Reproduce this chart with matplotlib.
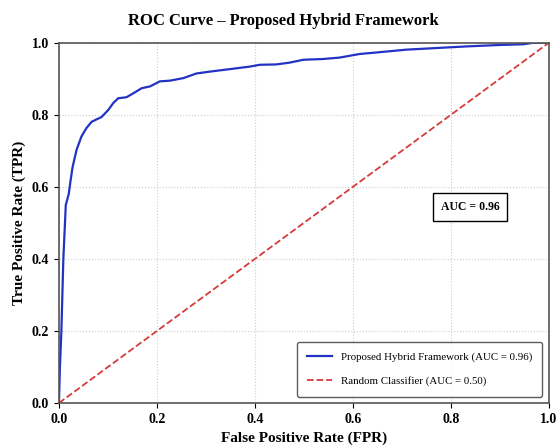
import matplotlib
matplotlib.use("Agg")
import matplotlib.pyplot as plt
import numpy as np

# ROC points
fpr = [0.0, 0.002, 0.005, 0.009, 0.014, 0.020, 0.024, 0.028, 0.036, 0.046, 0.056,
       0.067, 0.087, 0.101, 0.111, 0.121, 0.138, 0.152, 0.169, 0.186, 0.206,
       0.227, 0.254, 0.281, 0.308, 0.349, 0.390, 0.410, 0.444, 0.471, 0.499,
       0.539, 0.573, 0.614, 0.655, 0.709, 0.764, 0.832, 0.900, 0.948, 0.968, 1.0]
tpr = [0.0, 0.10, 0.20, 0.40, 0.55, 0.58, 0.62, 0.656, 0.703, 0.740, 0.763,
       0.781, 0.794, 0.814, 0.833, 0.846, 0.849, 0.860, 0.874, 0.879, 0.893,
       0.895, 0.902, 0.915, 0.920, 0.927, 0.934, 0.939, 0.940, 0.945, 0.953,
       0.955, 0.959, 0.969, 0.974, 0.981, 0.985, 0.990, 0.994, 0.996, 1.0, 1.0]
rand_x = [0.0, 1.0]
rand_y = [0.0, 1.0]
auc_model = 0.96
auc_random = 0.50
ticks = [0.0, 0.2, 0.4, 0.6, 0.8, 1.0]

plt.rcParams['font.family'] = ['Liberation Serif', 'DejaVu Serif']

fig = plt.figure(figsize=(5.56, 4.46), dpi=100)
ax = fig.add_axes([0.106, 0.0964, 0.881, 0.8076])

ax.plot(fpr, tpr, color='#2233c4', lw=1.6,
        label='Proposed Hybrid Framework (AUC = %.2f)' % auc_model)
ax.plot(rand_x, rand_y, color='#d63a3a', lw=1.3, ls='--',
        label='Random Classifier (AUC = %.2f)' % auc_random)

ax.set_xlim(0, 1)
ax.set_ylim(0, 1)
ax.set_xticks(ticks)
ax.set_yticks(ticks)
for lab in ax.get_xticklabels() + ax.get_yticklabels():
    lab.set_fontweight('bold')
    lab.set_fontsize(10)
ax.grid(True, ls=':', color='#cccccc', lw=0.8)
for s in ax.spines.values():
    s.set_color('#555555')
    s.set_linewidth(1.2)

# title sits centred on the figure rather than the axes
fig.text(0.509, 0.952, 'ROC Curve – Proposed Hybrid Framework', fontsize=12,
         fontweight='bold', ha='center', va='center')
ax.set_xlabel('False Positive Rate (FPR)', fontsize=11, fontweight='bold')
ax.set_ylabel('True Positive Rate (TPR)', fontsize=11, fontweight='bold')

ax.text(0.84, 0.544, 'AUC = %.2f' % auc_model, transform=ax.transAxes,
        ha='center', va='center', fontsize=8.5, fontweight='bold',
        bbox=dict(boxstyle='square,pad=0.65', fc='white', ec='black', lw=1))

leg = ax.legend(loc='lower right', fontsize=7.8, frameon=True, fancybox=True,
                borderpad=0.95, labelspacing=1.3, handlelength=2.3,
                handletextpad=0.8, borderaxespad=0.6)
leg.get_frame().set_edgecolor('#333333')
leg.get_frame().set_linewidth(1.0)

fig.savefig('out.png', dpi=100)
